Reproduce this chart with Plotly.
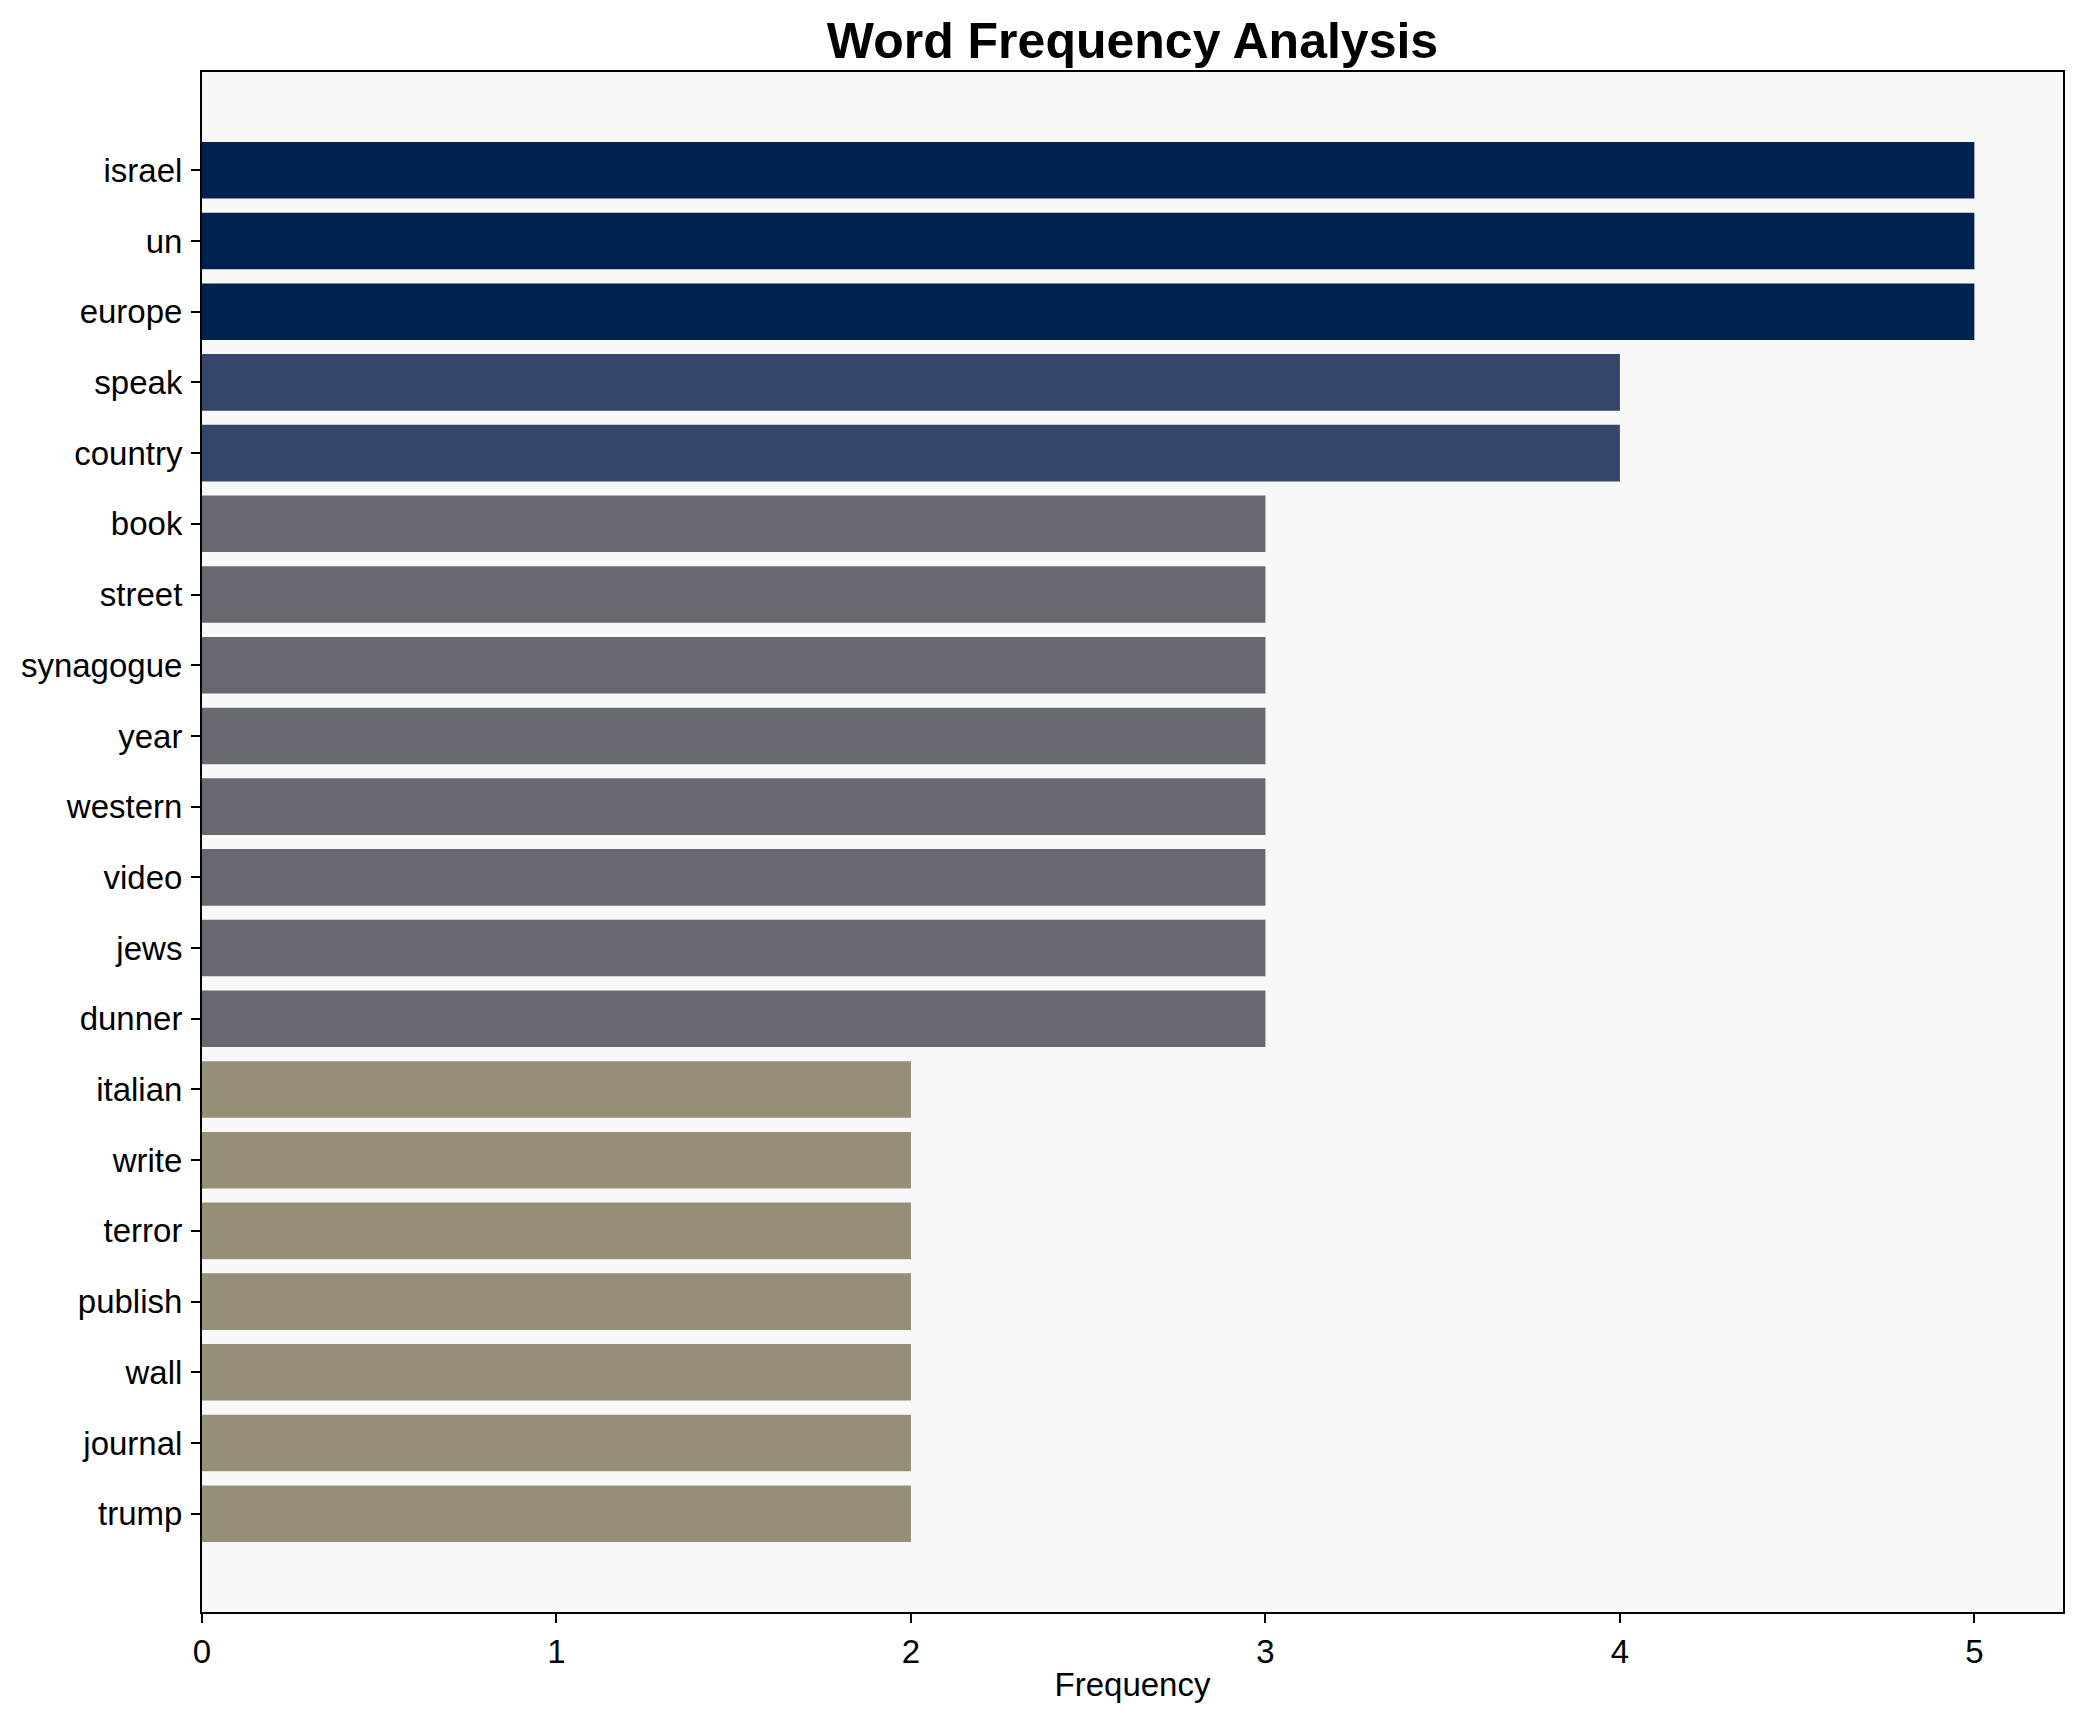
import plotly.graph_objects as go

words = ["israel", "un", "europe", "speak", "country", "book", "street", "synagogue",
         "year", "western", "video", "jews", "dunner", "italian", "write", "terror",
         "publish", "wall", "journal", "trump"]
frequency = [5, 5, 5, 4, 4, 3, 3, 3, 3, 3, 3, 3, 3, 2, 2, 2, 2, 2, 2, 2]
x_ticks = [0, 1, 2, 3, 4, 5]

color_by_value = {5: "#00224e", 4: "#35456c", 3: "#666970", 2: "#958f78"}
bar_colors = [color_by_value[v] for v in frequency]

font_family = "Liberation Sans, Arial, sans-serif"

fig = go.Figure(go.Bar(
    x=frequency,
    y=words,
    orientation="h",
    width=0.8,
    marker=dict(color=bar_colors, line=dict(width=0)),
))

n = len(words)
# page body has an 8px margin; figure is sized/margined to compensate
W, H = 2074, 1714
fig.update_layout(
    width=W,
    height=H,
    margin=dict(l=194, r=19, t=64, b=110),
    paper_bgcolor="white",
    plot_bgcolor="#f8f8f8",
    showlegend=False,
    title=dict(
        text="<b>Word Frequency Analysis</b>",
        font=dict(family=font_family, size=50, color="black"),
        x=0.5, xref="paper", xanchor="center",
        y=1 - 32 / H, yref="container", yanchor="middle",
    ),
    font=dict(family=font_family, size=33, color="black"),
)

fig.update_xaxes(
    range=[0, 5.25],
    tickvals=x_ticks,
    ticktext=[str(t) for t in x_ticks],
    ticks="outside", ticklen=9, tickwidth=2, tickcolor="black",
    tickfont=dict(family=font_family, size=33, color="black"),
    showline=True, linecolor="black", linewidth=2, mirror=True,
    showgrid=False, zeroline=False,
    ticklabelstandoff=0,
    title=dict(text="Frequency", font=dict(family=font_family, size=33, color="black"), standoff=4),
)

fig.update_yaxes(
    type="category",
    categoryorder="array",
    categoryarray=words,
    range=[n - 1 + 1.39, -1.39],
    ticks="outside", ticklen=9, tickwidth=2, tickcolor="black",
    tickfont=dict(family=font_family, size=33, color="black"),
    showline=True, linecolor="black", linewidth=2, mirror=True,
    showgrid=False, zeroline=False,
    ticklabelstandoff=2,
)

fig.write_html("out.html")
